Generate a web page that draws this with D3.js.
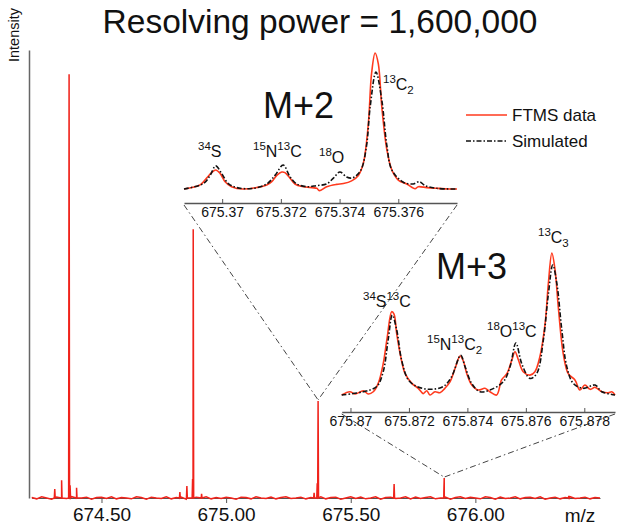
<!DOCTYPE html>
<html><head><meta charset="utf-8">
<script src="https://cdn.jsdelivr.net/npm/d3@7/dist/d3.min.js"></script>
<style>body{margin:0;background:#fff}svg{display:block}text{font-family:"Liberation Sans",Arial,sans-serif;fill:#111}</style>
</head><body><svg id="c" width="624" height="528"></svg>
<script>
// ---------- data ----------
const title = "Resolving power = 1,600,000";
const mainTicks = [674.5, 675.0, 675.5, 676.0];
const mainTickLabels = ["674.50", "675.00", "675.50", "676.00"];
// main spectrum peaks [m/z, relative intensity]
const mainPeaks = [[674.3125,2.1],[674.340,4.2],[674.370,100],[674.374,3],[674.400,2.4],
  [674.8145,1.4],[674.8426,2.8],[674.8655,4.5],[674.868,63.4],[674.9016,1],
  [675.353,1.2],[675.3655,3.5],[675.369,22.9],[675.674,3.3],[675.8735,1.5],[675.875,4.7],[676.375,0.5]];
// baseline noise, every 0.02 from 674.22
const noise = [0.1,-0.2,0.3,0.0,-0.3,0.2,0.1,-0.1,0.3,-0.2,0.0,0.2,-0.3,0.1,0.2,-0.1,0.3,-0.2,0.1,0.0,
  -0.2,0.3,0.1,-0.3,0.2,0.0,-0.1,0.3,-0.2,0.1,0.2,-0.3,0.0,0.2,-0.1,0.3,-0.2,0.1,-0.1,0.2,
  0.0,-0.3,0.2,0.1,-0.2,0.3,0.0,-0.1,0.2,-0.2,0.1,0.3,-0.1,0.0,0.2,-0.2,0.1,0.0,0.3,-0.2,
  0.1,0.2,-0.3,0.0,0.3,-0.1,0.2,-0.2,0.0,0.3,-0.3,0.1,0.2,-0.1,0.0,0.3,-0.2,0.2,-0.1,0.1,
  0.3,-0.2,0.0,0.2,-0.3,0.1,0.3,-0.1,0.2,0.0,-0.2,0.3,0.1,-0.3,0.2,-0.1,0.0,0.3,-0.2,0.1,
  0.2,-0.1,0.3,-0.3,0.0,0.2,-0.2,0.1,0.3,-0.1,0.0,0.2,-0.2,0.1,0.0];

const m2Ticks = [675.370, 675.372, 675.374, 675.376];
const m2TickLabels = ["675.37", "675.372", "675.374", "675.376"];
const m2Data = [[675.36870,0],[675.36925,3],[675.36947,8],[675.36964,12],[675.36978,14],[675.36993,11.5],
  [675.37010,5.4],[675.37032,1.7],[675.37071,0],[675.37152,3],[675.37169,5.4],[675.37186,10],[675.37203,12.5],
  [675.37214,12],[675.37231,8],[675.37248,3.7],[675.37276,1.7],[675.37322,0.5],[675.37331,-1.2],[675.37356,1.7],
  [675.37390,3.4],[675.37413,4],[675.37441,6],[675.37464,10],[675.37481,19],[675.37498,48],[675.37509,85],
  [675.37521,100],[675.37532,92],[675.37544,60],[675.37561,29],[675.37578,14],[675.37600,6.6],[675.37629,3.7],
  [675.37657,0.2],[675.37668,1.7],[675.37697,1],[675.37731,0.5],[675.37776,0],[675.37800,0]];
const m2Sim = [[675.36870,0],[675.36936,4],[675.36959,10],[675.36978,17],[675.36998,11.5],[675.37021,4],
  [675.37050,1],[675.37106,0.5],[675.37152,3.7],[675.37180,10],[675.37208,17.6],[675.37231,9],[675.37254,3.7],
  [675.37288,1.7],[675.37322,2.5],[675.37356,3.7],[675.37379,8],[675.37401,12.5],[675.37424,8.8],[675.37441,8],
  [675.37458,10],[675.37475,15],[675.37492,32],[675.37504,60],[675.37524,86],[675.37544,65],[675.37561,32],
  [675.37578,14],[675.37617,5],[675.37651,3.7],[675.37672,5.4],[675.37691,2.5],[675.37731,0.5],[675.37800,0]];

const m3Ticks = [675.870, 675.872, 675.874, 675.876, 675.878];
const m3TickLabels = ["675.87", "675.872", "675.874", "675.876", "675.878"];
const m3Data = [[675.86970,0],[675.86998,2.3],[675.87016,0.7],[675.87044,3],[675.87061,0.7],[675.87078,2.3],
  [675.87095,8.2],[675.87112,22],[675.87126,41],[675.87141,58.7],[675.87149,57],[675.87158,43.4],[675.87172,27],
  [675.87187,15],[675.87210,8.2],[675.87232,4.7],[675.87249,1],[675.87261,3],[675.87272,0],[675.87289,2.3],
  [675.87306,1.6],[675.87323,4.7],[675.87341,9.4],[675.87358,18.8],[675.87375,27.5],[675.87386,24],[675.87398,15],
  [675.87415,7],[675.87437,3.5],[675.87460,4.7],[675.87477,2.3],[675.87500,0],[675.87517,10.6],[675.87535,15],
  [675.87552,24.6],[675.87563,30.5],[675.87574,25],[675.87591,16.4],[675.87614,14],[675.87631,16.4],[675.87648,27],
  [675.87666,50.5],[675.87677,78.6],[675.87689,100],[675.87700,88],[675.87711,62],[675.87728,29],[675.87745,15],
  [675.87768,10.6],[675.87785,3.5],[675.87802,7],[675.87820,4],[675.87837,5.4],[675.87860,2.3],[675.87882,1.6],
  [675.87894,2.3],[675.87905,0]];
const m3Sim = [[675.86970,0],[675.87044,2.3],[675.87090,6],[675.87112,16.4],[675.87129,39],[675.87143,56.3],
  [675.87158,46],[675.87175,24.6],[675.87198,10.6],[675.87227,6],[675.87272,4],[675.87318,6],[675.87346,12.9],
  [675.87377,28],[675.87392,20],[675.87415,8],[675.87443,2.3],[675.87477,3.5],[675.87523,9.4],[675.87546,20],
  [675.87566,36.6],[675.87586,22],[675.87614,11.7],[675.87637,15],[675.87660,39],[675.87677,71],[675.87692,91.5],
  [675.87706,78.6],[675.87723,45.8],[675.87740,20],[675.87762,8.2],[675.87797,4.7],[675.87837,7],[675.87860,2.3],
  [675.87905,0]];

const seriesNames = ["FTMS data", "Simulated"];
const insetTitles = ["M+2", "M+3"];
// isotope labels: [text, mode] mode: "" normal, "^" superscript, "_" subscript
const m2Labels = [
  {p:[["34","^"],["S",""]], x:198, y:157},
  {p:[["15","^"],["N",""],["13","^"],["C",""]], x:253, y:157},
  {p:[["18","^"],["O",""]], x:319, y:163},
  {p:[["13","^"],["C",""],["2","_"]], x:383, y:90}];
const m3Labels = [
  {p:[["34","^"],["S",""],["13","^"],["C",""]], x:363, y:307},
  {p:[["15","^"],["N",""],["13","^"],["C",""],["2","_"]], x:427, y:350},
  {p:[["18","^"],["O",""],["13","^"],["C",""]], x:487, y:337},
  {p:[["13","^"],["C",""],["3","_"]], x:538, y:243}];

// ---------- drawing ----------
const svg = d3.select("#c");
const RED = "#f0221a", RED2 = "#ff3a1e", GRAY = "#555";

svg.append("text").attr("x", 320).attr("y", 33).attr("text-anchor", "middle")
  .style("font-size", "33.5px").text(title);

const x = d3.scaleLinear().domain([674.22, 676.50]).range([31.7, 600]);
const y = d3.scaleLinear().domain([0, 105.7]).range([498, 50]);

// y axis line
svg.append("g").attr("transform", "translate(29,0)")
  .call(d3.axisLeft(y).tickValues([]).tickSizeOuter(0))
  .call(g => g.select(".domain").attr("stroke", "#666").attr("stroke-width", 1.5));
svg.append("text").attr("transform", "translate(19,62) rotate(-90)")
  .style("font-size", "14.5px").text("Intensity");

// x axis
svg.append("g").attr("transform", "translate(0,498)")
  .call(d3.axisBottom(x).tickValues(mainTicks).tickFormat((d, i) => mainTickLabels[i]).tickSize(5).tickPadding(5).tickSizeOuter(0))
  .call(g => { g.select(".domain").attr("stroke", GRAY);
    g.selectAll(".tick line").attr("stroke", GRAY);
    g.selectAll("text").style("font-size", "19px").attr("fill", "#111"); });
svg.append("text").attr("x", 580).attr("y", 522).attr("text-anchor", "middle").style("font-size", "19px").text("m/z");

// main spectrum
const pts = [];
noise.forEach((v, i) => pts.push([674.22 + i * 0.02, v]));
mainPeaks.forEach(([m, h]) => { pts.push([m - 0.0018, 0]); pts.push([m, h]); pts.push([m + 0.0018, 0]); });
pts.sort((a, b) => a[0] - b[0]);
svg.append("path").datum(pts).attr("fill", "none").attr("stroke", RED).attr("stroke-width", 1.5)
  .attr("d", d3.line().x(d => x(d[0])).y(d => y(d[1])));

function inset(cfg) {
  const ix = d3.scaleLinear().domain(cfg.dom).range(cfg.rx);
  const iy = d3.scaleLinear().domain([0, 100]).range(cfg.ry);
  // zoom lines
  const px = x(cfg.peak[0]), py = y(cfg.peak[1]) - 1;
  cfg.rx.forEach(rx => svg.append("line").attr("x1", rx).attr("y1", cfg.axisY + 2).attr("x2", px).attr("y2", py)
    .attr("stroke", "#444").attr("stroke-width", 1).attr("stroke-dasharray", "6,3,1.5,3"));
  // axis
  svg.append("g").attr("transform", `translate(0,${cfg.axisY})`)
    .call(d3.axisBottom(ix).tickValues(cfg.ticks).tickFormat((d, i) => cfg.labels[i]).tickSize(-4).tickPadding(4).tickSizeOuter(0))
    .call(g => { g.select(".domain").attr("stroke", GRAY).attr("stroke-width", 1.5);
      g.selectAll(".tick line").attr("stroke", GRAY);
      g.selectAll("text").style("font-size", "14px").attr("fill", "#111"); });
  const ln = d3.line().x(d => ix(d[0])).y(d => iy(d[1])).curve(d3.curveCatmullRom.alpha(0.5));
  svg.append("path").datum(cfg.data).attr("fill", "none").attr("stroke", RED2).attr("stroke-width", 1.6).attr("d", ln);
  svg.append("path").datum(cfg.sim).attr("fill", "none").attr("stroke", "#111").attr("stroke-width", 1.6)
    .attr("stroke-dasharray", "5,2,1.5,2").attr("d", ln);
  svg.append("text").attr("x", cfg.tpos[0]).attr("y", cfg.tpos[1]).style("font-size", "36px").text(cfg.title);
  cfg.lbls.forEach(l => {
    const t = svg.append("text").attr("x", l.x).attr("y", l.y).style("font-size", "16px");
    let shift = 0;
    l.p.forEach(([s, m]) => {
      const target = m === "^" ? -7 : m === "_" ? 4 : 0;
      const ts = t.append("tspan").text(s).attr("dy", target - shift);
      shift = target;
      if (m) ts.style("font-size", "11.5px");
    });
  });
}
inset({dom:[675.3687, 675.3780], rx:[184, 457], ry:[189, 53], axisY:203, ticks:m2Ticks, labels:m2TickLabels,
  data:m2Data, sim:m2Sim, peak:mainPeaks[12], title:insetTitles[0], tpos:[263,118], lbls:m2Labels});
inset({dom:[675.8697, 675.87905], rx:[341.7, 615], ry:[395, 253], axisY:412, ticks:m3Ticks, labels:m3TickLabels,
  data:m3Data, sim:m3Sim, peak:mainPeaks[15], title:insetTitles[1], tpos:[436,279], lbls:m3Labels});

// legend
const lg = svg.append("g");
lg.append("line").attr("x1", 466).attr("x2", 507).attr("y1", 115).attr("y2", 115).attr("stroke", RED2).attr("stroke-width", 1.6);
lg.append("line").attr("x1", 466).attr("x2", 507).attr("y1", 141).attr("y2", 141).attr("stroke", "#111").attr("stroke-width", 1.6)
  .attr("stroke-dasharray", "5,2,1.5,2");
lg.append("text").attr("x", 512).attr("y", 121).style("font-size", "17px").text(seriesNames[0]);
lg.append("text").attr("x", 512).attr("y", 147).style("font-size", "17px").text(seriesNames[1]);
</script></body></html>
